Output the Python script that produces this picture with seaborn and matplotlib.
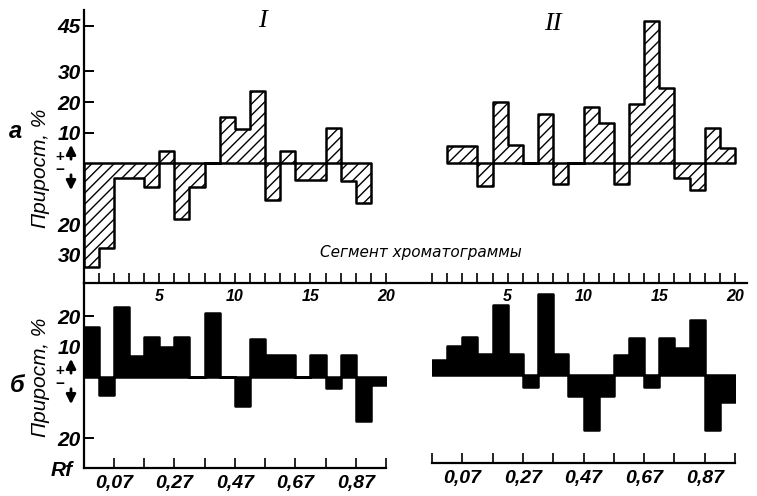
import numpy as np
import pandas as pd
import matplotlib
matplotlib.use("Agg")
import matplotlib.pyplot as plt
import seaborn as sns

# segment numbers and growth (%)
seg_top_I = list(range(1, 20))
val_top_I = [-34, -28, -5, -5, -8, 4, -18.5, -8, 0, 15, 11, 23.5, -12, 4, -5.5, -5.5, 11.5, -6, -13]

seg_top_II = list(range(2, 21))
val_top_II = [5.6, 5.6, -7.5, 20, 6, 0, 16, -7, 0, 18.5, 13, -7, 19.5, 46.5, 24.5, -5, -9, 11.5, 5]

seg_bot_I = list(range(1, 21))
val_bot_I = [16.5, -6, 23, 7, 13, 10, 13, 0, 21, 0, -9.5, 12.5, 7.2, 7.2, 0, 7.2, -3.6, 7.2, -14.5, -2.5]

seg_bot_II = list(range(1, 21))
val_bot_II = [5, 9.5, 12.5, 7, 23, 7, -4, 26.5, 7, -7, -18, -7, 6.5, 12, -4, 12, 9, 18, -18, -9]

top_yticks = [45, 30, 20, 10, -20, -30]
bot_yticks = [20, 10, -20]
seg_labels = {5: "5", 10: "10", 15: "15", 20: "20"}
rf_pos = [2, 6, 10, 14, 18]
rf_labels = ["0,07", "0,27", "0,47", "0,67", "0,87"]

sns.set_theme(style="ticks")
plt.rcParams["font.family"] = ["Liberation Sans", "DejaVu Sans"]
plt.rcParams.update({"text.color": "black", "axes.edgecolor": "black",
                     "xtick.color": "black", "ytick.color": "black",
                     "axes.labelcolor": "black"})

W, H = 757, 496
fig = plt.figure(figsize=(W / 100, H / 100), dpi=100)


def add_ax(x0, y0, x1, y1):
    return fig.add_axes([x0 / W, 1 - y1 / H, (x1 - x0) / W, (y1 - y0) / H])


def step_hist(ax, seg, vals, face, hatch=None):
    df = pd.DataFrame({"x": np.array(seg) - 0.5, "w": vals})
    sns.histplot(data=df, x="x", weights="w", binwidth=1,
                 binrange=(min(seg) - 1, max(seg)), element="step",
                 fill=True, ax=ax, facecolor=face, edgecolor="black",
                 hatch=hatch, linewidth=1.8, alpha=1)
    ax.set_xlabel("")
    ax.set_ylabel("")


num_font = dict(style="italic", weight="bold")

# top, series I
axA1 = add_ax(83.5, 10, 386, 283)
step_hist(axA1, seg_top_I, val_top_I, "white", "///")
axA1.set_xlim(0, 20)
axA1.set_ylim(-(283 - 163) / 3.05, (163 - 10) / 3.05)
axA1.set_yticks(top_yticks)
axA1.set_yticklabels([str(abs(v)) for v in top_yticks], fontsize=15, **num_font)
axA1.set_xticks(range(21))
axA1.set_xticklabels([seg_labels.get(i, "") for i in range(21)], fontsize=11.5, **num_font)

# top, series II
axA2 = add_ax(386, 10, 747, 283)
step_hist(axA2, seg_top_II, val_top_II, "white", "///")
k = (735 - 432) / 20
axA2.set_xlim(-(432 - 386) / k, 20 + (747 - 735) / k)
axA2.set_ylim(axA1.get_ylim())
axA2.set_yticks([])
axA2.set_xticks(range(21))
axA2.set_xticklabels([seg_labels.get(i, "") for i in range(21)], fontsize=11.5, **num_font)

# bottom, series I
axB1 = add_ax(83.5, 283, 386, 468)
step_hist(axB1, seg_bot_I, val_bot_I, "black")
axB1.set_xlim(0, 20)
axB1.set_ylim(-(468 - 377) / 3.05, (377 - 283) / 3.05)
axB1.set_yticks(bot_yticks)
axB1.set_yticklabels([str(abs(v)) for v in bot_yticks], fontsize=15, **num_font)
axB1.set_xticks(rf_pos)
axB1.set_xticks(range(0, 21, 2), minor=True)
axB1.set_xticklabels(rf_labels, fontsize=14, **num_font)

# bottom, series II
axB2 = add_ax(432, 283, 735, 463)
step_hist(axB2, seg_bot_II, val_bot_II, "black")
axB2.set_xlim(0, 20)
axB2.set_ylim(-(463 - 375) / 3.05, (375 - 283) / 3.05)
axB2.set_yticks([])
axB2.set_xticks(rf_pos)
axB2.set_xticks(range(0, 21, 2), minor=True)
axB2.set_xticklabels(rf_labels, fontsize=14, **num_font)

for ax in (axA1, axA2, axB1, axB2):
    for s in ("top", "right"):
        ax.spines[s].set_visible(False)
    for s in ("left", "bottom"):
        ax.spines[s].set_linewidth(1.6)
    ax.patch.set_alpha(0)
for ax in (axA2, axB2):
    ax.spines["left"].set_visible(False)

for ax in (axA1, axA2):
    ax.tick_params(axis="x", direction="in", length=7, width=1.2, pad=4)
axA1.tick_params(axis="y", direction="in", length=7, width=1.4, pad=2)
axB1.tick_params(axis="y", direction="in", length=7, width=1.4, pad=2)
for ax in (axB1, axB2):
    ax.tick_params(axis="x", which="both", direction="in", length=7, width=1.2, pad=5)


def ftext(x, y, s, **kw):
    fig.text(x / W, 1 - y / H, s, ha="center", va="center", **kw)


ftext(262, 21, "I", family="Liberation Serif", style="italic", fontsize=19)
ftext(553, 24, "II", family="Liberation Serif", style="italic", fontsize=19)
ftext(15, 132, "а", style="italic", weight="bold", fontsize=17)
ftext(17, 386, "б", style="italic", weight="bold", fontsize=17)
ftext(41, 168, "Прирост, %", rotation=90, style="italic", fontsize=15)
ftext(41, 377, "Прирост, %", rotation=90, style="italic", fontsize=15)
ftext(421, 252, "Сегмент хроматограммы", family="DejaVu Sans", style="italic", fontsize=11)
ftext(62, 470, "Rf", style="italic", weight="bold", fontsize=15)

for zero in (163, 377):
    ftext(60, zero - 6, "+", weight="bold", fontsize=11)
    ftext(60, zero + 7, "−", weight="bold", fontsize=11)
    axA1.annotate("", xy=(71, H - (zero - 21)), xytext=(71, H - (zero - 1)),
                  xycoords="figure pixels", textcoords="figure pixels",
                  arrowprops=dict(arrowstyle="-|>", lw=2, color="black", mutation_scale=14),
                  annotation_clip=False)
    axA1.annotate("", xy=(71, H - (zero + 30)), xytext=(71, H - (zero + 9)),
                  xycoords="figure pixels", textcoords="figure pixels",
                  arrowprops=dict(arrowstyle="-|>", lw=2, color="black", mutation_scale=14),
                  annotation_clip=False)

fig.savefig("out.png", dpi=100)
